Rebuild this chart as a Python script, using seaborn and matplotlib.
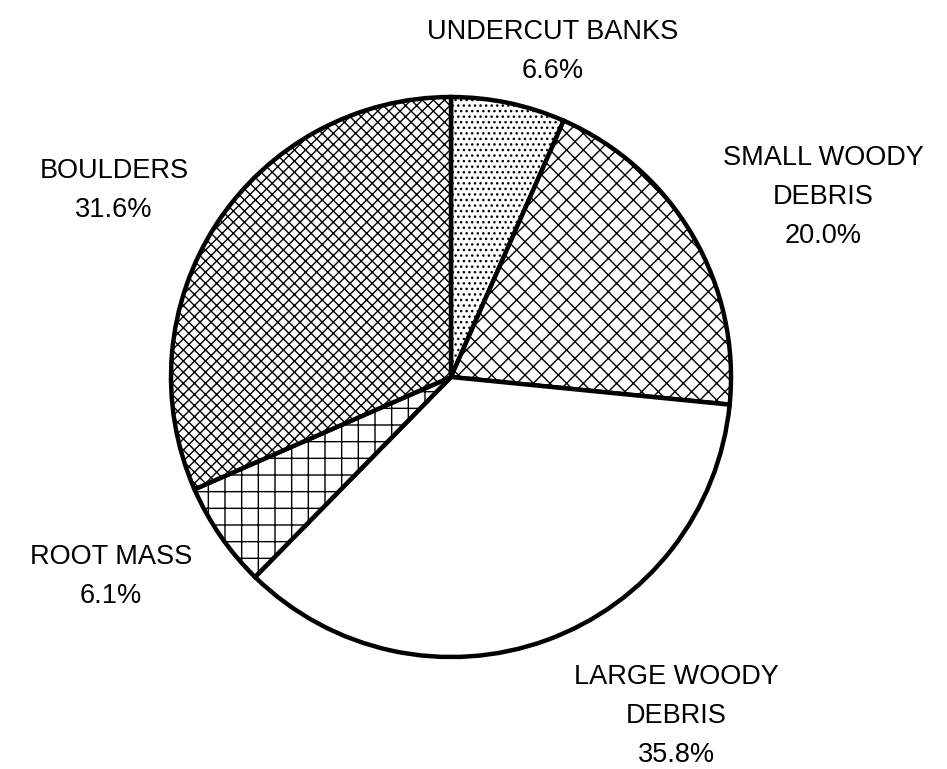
import matplotlib
matplotlib.use("Agg")
import matplotlib.pyplot as plt
import seaborn as sns

categories = ["UNDERCUT BANKS", "SMALL WOODY\nDEBRIS", "LARGE WOODY\nDEBRIS", "ROOT MASS", "BOULDERS"]
shares = [6.6, 20.0, 35.8, 6.1, 31.6]
hatches = ["...", "xx", "", "+", "xxx"]

sns.set_theme(style="white")
plt.rcParams["font.family"] = ["Liberation Sans", "DejaVu Sans"]
plt.rcParams["hatch.linewidth"] = 1.0
plt.rcParams["hatch.color"] = "#222222"

W, H = 947, 769
fig = plt.figure(figsize=(W / 100, H / 100), dpi=100)
ax = fig.add_axes([0, 0, 1, 1])

wedges, _ = ax.pie(
    shares,
    startangle=90,
    counterclock=False,
    center=(451, H - 377),
    radius=280,
    colors=["white"] * len(shares),
    wedgeprops=dict(edgecolor="black", linewidth=3.2),
    frame=True,
)
for w, h in zip(wedges, hatches):
    w.set_hatch(h)
ax.set_xlim(0, W)
ax.set_ylim(0, H)
ax.set_aspect("equal")
ax.set_axis_off()

# label anchors (top-centre of each text block, in pixels)
label_pos = [(553, 19), (823, 145), (676, 664), (111, 544), (114, 158)]
for name, val, (x, y) in zip(categories, shares, label_pos):
    ax.text(x, H - y, f"{name}\n{val:.1f}%", ha="center", va="top",
            fontsize=19.5, linespacing=1.66, color="black")

fig.savefig("out.png", dpi=100)
